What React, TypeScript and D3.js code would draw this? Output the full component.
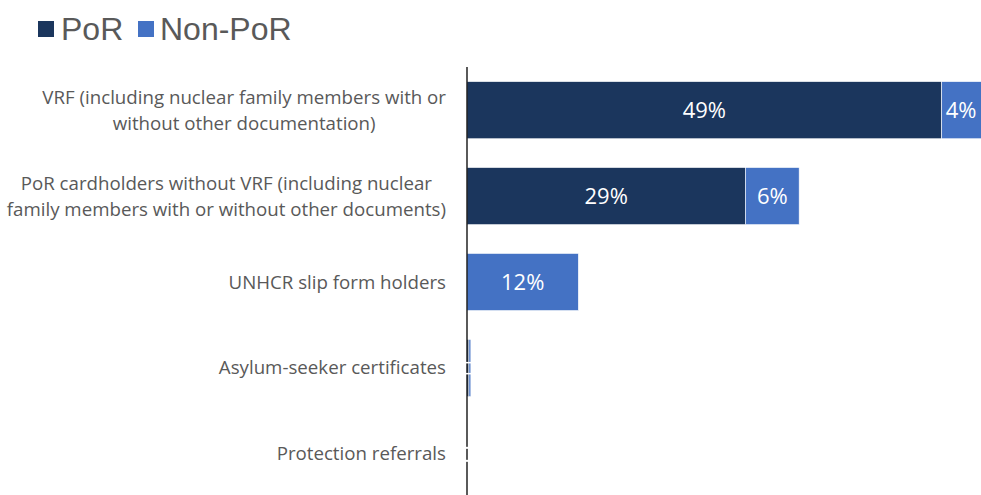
import React from "react";
import * as d3 from "d3";

const categories = [
  ["VRF (including nuclear family members with or", "without other documentation)"],
  ["PoR cardholders without VRF (including nuclear", "family members with or without other documents)"],
  ["UNHCR slip form holders"],
  ["Asylum-seeker certificates"],
  ["Protection referrals"],
];
const porValues = [49.45, 29.0, 0, 0.2, 0];
const nonPorValues = [4.2, 5.6, 11.6, 0.2, 0];
const seriesNames = ["PoR", "Non-PoR"];
const colors = ["#1b365d", "#4472c4"];

const W = 981;
const H = 495;
const LABEL_FONT = "18.7px 'Open Sans'";

let ctx: CanvasRenderingContext2D | null = null;
function measure(s: string): number {
  if (!ctx) ctx = document.createElement("canvas").getContext("2d");
  if (!ctx) return s.length * 8;
  ctx.font = LABEL_FONT;
  return ctx.measureText(s).width;
}

export default function App() {
  const x = d3.scaleLinear().domain([0, 53.5]).range([467, 980.6]);
  const y = d3
    .scaleBand<number>()
    .domain(d3.range(categories.length))
    .range([67, 497])
    .paddingInner(0.335)
    .paddingOuter(0.17);
  const fmt = (v: number) => `${Math.round(v)}%`;
  const stack = categories.map((_, i) => {
    const a = porValues[i];
    const b = nonPorValues[i];
    return [
      { x0: 0, x1: a, v: a, c: colors[0] },
      { x0: a, x1: a + b, v: b, c: colors[1] },
    ];
  });
  const labelRight = 446;
  return (
    <svg
      width={W}
      height={H}
      style={{ position: "absolute", left: 0, top: 0, display: "block" }}
    >
      <rect width={W} height={H} fill="#ffffff" />
      {/* legend */}
      <g fontFamily="Liberation Sans, Arial, sans-serif" fontSize={32} fill="#595959">
        <rect x={38} y={21} width={16} height={16} fill={colors[0]} />
        <text x={61} y={40}>{seriesNames[0]}</text>
        <rect x={138} y={21} width={16} height={16} fill={colors[1]} />
        <text x={160} y={40}>{seriesNames[1]}</text>
      </g>
      {/* bars */}
      {stack.map((segs, i) =>
        segs.map((s, j) => (
          <rect
            key={`${i}-${j}`}
            x={x(s.x0)}
            y={y(i)}
            width={Math.max(0, x(s.x1) - x(s.x0))}
            height={y.bandwidth()}
            fill={s.c}
            stroke="#ffffff"
            strokeWidth={0.6}
          />
        ))
      )}
      {/* axis line */}
      <line x1={467} x2={467} y1={67} y2={H} stroke="#000000" strokeWidth={1.3} />
      {/* bar labels */}
      <g fontFamily="Open Sans, sans-serif" fontSize={22} fill="#ffffff" textAnchor="middle">
        {stack.map((segs, i) =>
          segs.map((s, j) =>
            s.v > 1 ? (
              <text
                key={`l${i}-${j}`}
                x={(x(s.x0) + x(Math.min(s.x1, 53.5))) / 2}
                y={(y(i) as number) + y.bandwidth() / 2}
                dy="0.36em"
              >
                {fmt(s.v)}
              </text>
            ) : null
          )
        )}
      </g>
      {/* tiny/zero value labels (white over white, only visible on bars/axis) */}
      <g fill="#ffffff">
        <rect x={465} y={(y(3) as number) + y.bandwidth() / 2 - 6} width={8} height={1.5} />
        <rect x={465} y={(y(3) as number) + y.bandwidth() / 2 + 5} width={8} height={1.5} />
        <rect x={465} y={(y(4) as number) + y.bandwidth() / 2 - 7} width={4} height={2} />
        <rect x={465} y={(y(4) as number) + y.bandwidth() / 2 + 6} width={4} height={2} />
      </g>
      {/* category labels */}
      <g fontFamily="Open Sans, sans-serif" fontSize={18.7} fill="#595959" textAnchor="middle">
        {categories.map((lines, i) => {
          const cy = (y(i) as number) + y.bandwidth() / 2;
          const lh = 26;
          const start = cy - ((lines.length - 1) * lh) / 2;
          const maxW = Math.max(...lines.map(measure));
          const cx = labelRight - maxW / 2;
          return (
            <text key={`c${i}`} x={cx}>
              {lines.map((ln, k) => (
                <tspan key={k} x={cx} y={start + k * lh} dy="0.35em">
                  {ln}
                </tspan>
              ))}
            </text>
          );
        })}
      </g>
    </svg>
  );
}
